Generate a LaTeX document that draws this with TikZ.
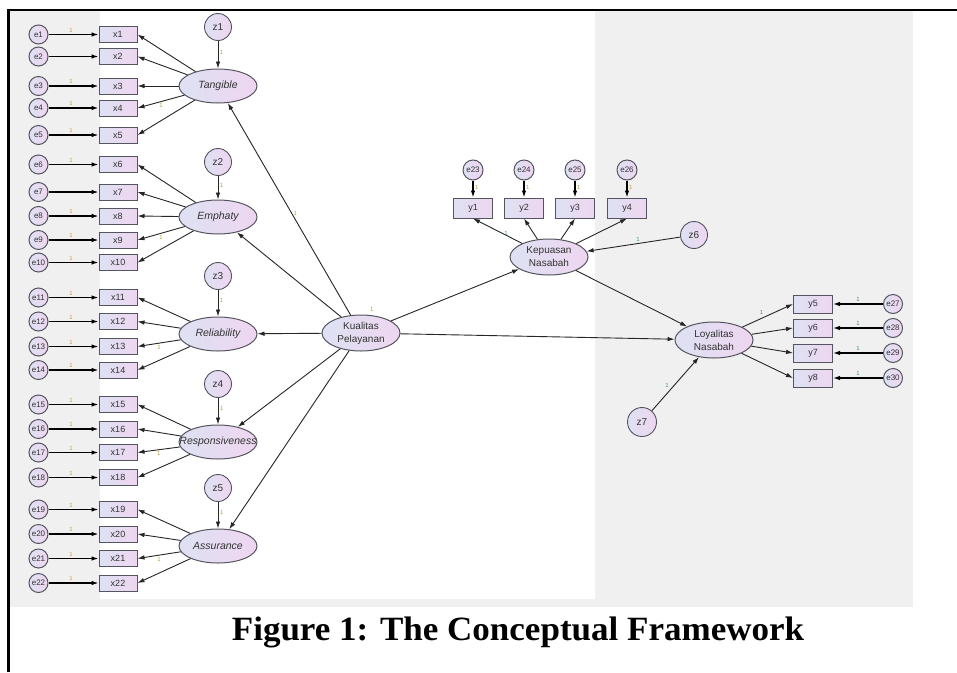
\documentclass[tikz,border=0pt]{standalone}
\usepackage{fontspec}
\setmainfont{Liberation Serif}
\setsansfont{Liberation Sans}
\usetikzlibrary{arrows.meta,shapes.geometric}
\definecolor{lavL}{RGB}{222,225,243}
\definecolor{lavR}{RGB}{238,214,240}
\definecolor{bordc}{RGB}{85,85,95}
\definecolor{panel}{RGB}{240,240,240}
\definecolor{oneL}{RGB}{185,160,60}
\definecolor{oneR}{RGB}{70,140,150}
\tikzset{
  obs/.style={rectangle, draw=bordc, line width=1, left color=lavL, right color=lavR,
    minimum width=38, minimum height=16, inner sep=0, text=black!80,
    font=\sffamily\fontsize{9}{9}\selectfont},
  err/.style={circle, draw=bordc, line width=1, left color=lavL, right color=lavR,
    minimum size=19, inner sep=0, text=black!80,
    font=\sffamily\fontsize{8}{8}\selectfont},
  dist/.style={circle, draw=bordc, line width=0.9, left color=lavL, right color=lavR,
    minimum size=27, inner sep=0, text=black!80,
    font=\sffamily\fontsize{10}{10}\selectfont},
  lat/.style={ellipse, draw=bordc, line width=1, left color=lavL, right color=lavR,
    minimum width=78, minimum height=36, inner sep=0, align=center, text=black!80,
    font=\sffamily\fontsize{10}{13}\selectfont},
  dim/.style={lat, minimum height=34, font=\sffamily\itshape\fontsize{10.5}{12}\selectfont},
  one/.style={text=oneL, inner sep=1.5, font=\sffamily\fontsize{6}{6}\selectfont},
  oneb/.style={one, text=oneR},
  path/.style={->, draw=black!85, line width=0.9},
  fix/.style={->, draw=black, line width=1.3},
}

\begin{document}
\begin{tikzpicture}[x=1pt, y=-1pt, >={Latex[length=7pt,width=4.6pt]}]
		\useasboundingbox (0,0) rectangle (957,672);
		\fill[panel] (10,11) rectangle (913,607);
		\fill[white] (100,11) rectangle (595,599);
		\draw[line width=2.5] (8.7,672) -- (8.7,9.8) -- (957,9.8);
		%
		\node[dim] (tang) at (218,86) {Tangible};
		\node[dim] (emph) at (218,217) {Emphaty};
		\node[dim] (reli) at (218,334) {Reliability};
		\node[dim] (resp) at (218,442) {\makebox[0pt]{Responsiveness}};
		\node[dim] (assu) at (218,546) {Assurance};
		\node[dist] (z1) at (218,27) {z1};
		\node[dist] (z2) at (218,162) {z2};
		\node[dist] (z3) at (218,276) {z3};
		\node[dist] (z4) at (218,384) {z4};
		\node[dist] (z5) at (218,488) {z5};
		\foreach \z/\d in {z1/tang, z2/emph, z3/reli, z4/resp, z5/assu}
			\draw [path] (\z) to node[one, right, pos=0.4] {1} (\d);
		%
		\foreach \i/\y/\d/\w/\l in {1/34.5/tang/1/, 2/56.5/tang//, 3/86/tang/1/, 4/108/tang/1/1,
				5/135/tang/1/, 6/164.5/emph/1/, 7/192/emph//, 8/216/emph/1/, 9/240/emph/1/1,
				10/262.5/emph/1/, 11/297.5/reli/1/, 12/321.5/reli/1/, 13/346.5/reli/1/1,
				14/370/reli/1/, 15/404.5/resp/1/, 16/429/resp/1/, 17/452.5/resp/1/1,
				18/477.5/resp/1/, 19/509.5/assu/1/, 20/534/assu/1/, 21/558.5/assu/1/1,
				22/583/assu/1/} {
			\node[obs] (x\i) at (118,\y) {x\i};
			\node[err] (e\i) at (38.5,\y) {e\i};
			\draw [fix] (e\i) to node[one, above, pos=0.45] {\w} (x\i);
			\draw [path] (\d) to node[one, below, pos=0.5] {\l} (x\i.east);
		}
		%
		\node[lat, label={[one, label distance=2pt]70:1}] (kual) at (361,333) {Kualitas\\Pelayanan};
		\draw [path] (kual) to node[one, right, pos=0.48] {1} (tang);
		\foreach \d in {emph, reli, resp, assu}
			\draw [path] (kual) to (\d);
		%
		\node[lat] (kep) at (549,257) {Kepuasan\\Nasabah};
		\node[lat] (loy) at (714,340) {Loyalitas\\Nasabah};
		\node[dist] (z6) at (694,235) {z6};
		\node[dist, minimum size=29] (z7) at (642,422) {z7};
		\draw [path] (kual) to (kep);
		\draw [path] (kual) to (loy);
		\draw [path] (kep) to (loy);
		\draw [path] (z6) to node[oneb, above, pos=0.45] {1} (kep);
		\draw [path] (z7) to node[oneb, above left, pos=0.4] {1} (loy);
		%
		\foreach \i/\x/\e/\l in {1/473/23/1, 2/524/24/, 3/575/25/, 4/627/26/} {
			\node[obs, minimum width=39, minimum height=20] (y\i) at (\x,208) {y\i};
			\node[err, minimum size=20] (e\e) at (\x,170) {e\e};
			\draw [fix] (e\e) to node[one, right, pos=0.4] {1} (y\i);
			\draw [path] (kep) to node[oneb, right, pos=0.4] {\l} (y\i.south);
		}
		\foreach \i/\y/\e/\l in {5/304/27/1, 6/328/28/, 7/353/29/, 8/378/30/} {
			\node[obs, minimum width=39, minimum height=18] (y\i) at (813,\y) {y\i};
			\node[err] (e\e) at (893,\y) {e\e};
			\draw [fix] (e\e) to node[oneb, above, pos=0.5] {1} (y\i);
			\draw [path] (loy) to node[oneb, above left, pos=0.45] {\l} (y\i.west);
		}
		%
		\node[font=\bfseries\fontsize{34}{34}\selectfont, anchor=base, transform shape, xscale=1.03]
			(cap) at (518,640) {Figure 1: The Conceptual Framework};
	\end{tikzpicture}
\end{document}
